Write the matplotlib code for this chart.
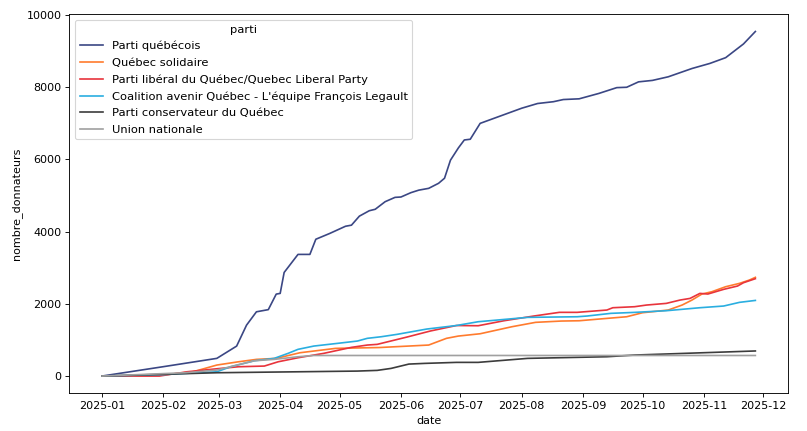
import matplotlib
matplotlib.use("Agg")
import matplotlib.pyplot as plt
import matplotlib.dates as mdates
import pandas as pd

parties = [
    "Parti québécois",
    "Québec solidaire",
    "Parti libéral du Québec/Quebec Liberal Party",
    "Coalition avenir Québec - L'équipe François Legault",
    "Parti conservateur du Québec",
    "Union nationale",
]
colors = ["#3b4784", "#ff7b2e", "#e8343c", "#2aaee0", "#3c3c3c", "#a0a0a0"]

pq_dates = ["2025-01-01", "2025-02-01", "2025-02-28", "2025-03-10", "2025-03-15", "2025-03-20",
            "2025-03-26", "2025-03-30", "2025-04-01", "2025-04-03", "2025-04-10", "2025-04-16",
            "2025-04-19", "2025-04-26", "2025-05-04", "2025-05-07", "2025-05-11", "2025-05-16",
            "2025-05-19", "2025-05-24", "2025-05-29", "2025-06-01", "2025-06-06", "2025-06-10",
            "2025-06-15", "2025-06-20", "2025-06-23", "2025-06-26", "2025-06-30", "2025-07-03",
            "2025-07-06", "2025-07-11", "2025-07-17", "2025-07-24", "2025-08-01", "2025-08-09",
            "2025-08-17", "2025-08-22", "2025-08-30", "2025-09-09", "2025-09-18", "2025-09-23",
            "2025-09-29", "2025-10-06", "2025-10-14", "2025-10-26", "2025-11-04", "2025-11-12",
            "2025-11-21", "2025-11-27"]
pq_values = [0, 260, 490, 830, 1410, 1780,
             1840, 2270, 2290, 2870, 3370, 3370,
             3790, 3950, 4150, 4180, 4430, 4580,
             4620, 4830, 4950, 4960, 5080, 5150,
             5200, 5340, 5480, 5980, 6320, 6540,
             6560, 7000, 7120, 7260, 7420, 7550,
             7600, 7660, 7680, 7830, 7990, 8000,
             8150, 8190, 8290, 8520, 8660, 8820,
             9200, 9545]

qs_dates = ["2025-01-01", "2025-01-30", "2025-02-16", "2025-02-28", "2025-03-11", "2025-03-20",
            "2025-03-30", "2025-04-11", "2025-04-29", "2025-05-21", "2025-06-15", "2025-06-24",
            "2025-06-30", "2025-07-11", "2025-07-27", "2025-08-08", "2025-08-21", "2025-08-30",
            "2025-09-09", "2025-09-23", "2025-10-01", "2025-10-14", "2025-10-21", "2025-10-26",
            "2025-10-31", "2025-11-05", "2025-11-12", "2025-11-19", "2025-11-24", "2025-11-27"]
qs_values = [0, 20, 119, 305, 396, 462,
             490, 646, 767, 790, 859, 1045,
             1108, 1172, 1366, 1488, 1524, 1532,
             1579, 1643, 1754, 1829, 1967, 2106,
             2272, 2336, 2475, 2568, 2660, 2735]

plq_dates = ["2025-01-01", "2025-01-30", "2025-02-13", "2025-02-28", "2025-03-11", "2025-03-24",
             "2025-03-31", "2025-04-10", "2025-04-23", "2025-05-07", "2025-05-15", "2025-05-20",
             "2025-06-04", "2025-06-16", "2025-06-29", "2025-07-10", "2025-07-23", "2025-08-07",
             "2025-08-20", "2025-08-29", "2025-09-13", "2025-09-16", "2025-09-27", "2025-10-03",
             "2025-10-13", "2025-10-20", "2025-10-25", "2025-10-30", "2025-11-03", "2025-11-11",
             "2025-11-18", "2025-11-21", "2025-11-27"]
plq_values = [0, 0, 119, 202, 258, 277,
              396, 507, 629, 795, 859, 878,
              1080, 1250, 1400, 1394, 1532, 1662,
              1765, 1765, 1829, 1893, 1921, 1967,
              2013, 2106, 2151, 2290, 2272, 2402,
              2494, 2586, 2697]

caq_dates = ["2025-01-01", "2025-02-01", "2025-02-28", "2025-03-07", "2025-03-19", "2025-03-29",
             "2025-04-05", "2025-04-10", "2025-04-18", "2025-04-30", "2025-05-10", "2025-05-15",
             "2025-05-22", "2025-05-30", "2025-06-14", "2025-06-29", "2025-07-10", "2025-08-04",
             "2025-08-29", "2025-09-03", "2025-09-15", "2025-09-27", "2025-10-13", "2025-10-30",
             "2025-11-11", "2025-11-19", "2025-11-27"]
caq_values = [0, 40, 119, 258, 424, 490,
              629, 740, 831, 906, 970, 1045,
              1089, 1155, 1302, 1400, 1505, 1626,
              1643, 1663, 1737, 1764, 1810, 1893,
              1940, 2042, 2095]

pcq_dates = ["2025-01-01", "2025-02-28", "2025-05-10", "2025-05-20", "2025-05-27", "2025-06-05",
             "2025-06-13", "2025-06-29", "2025-07-10", "2025-08-04", "2025-08-29", "2025-09-13",
             "2025-09-27", "2025-11-27"]
pcq_values = [0, 92, 138, 157, 212, 332,
              351, 379, 379, 490, 518, 535,
              582, 695]

un_dates = ["2025-01-01", "2025-02-12", "2025-02-28", "2025-03-19", "2025-03-29", "2025-04-10",
            "2025-04-18", "2025-11-27"]
un_values = [0, 92, 166, 424, 462, 535,
             570, 570]

series = [
    (pq_dates, pq_values),
    (qs_dates, qs_values),
    (plq_dates, plq_values),
    (caq_dates, caq_values),
    (pcq_dates, pcq_values),
    (un_dates, un_values),
]

plt.rcParams["font.family"] = ["DejaVu Sans"]
plt.rcParams["font.size"] = 10.3

fig = plt.figure(figsize=(807 / 80, 431 / 80), dpi=80)
ax = fig.add_axes([0.0859, 0.0875, 0.8906, 0.8794])

for name, color, (d, v) in zip(parties, colors, series):
    ax.plot(pd.to_datetime(d), v, color=color, lw=1.5, label=name)

ax.xaxis.set_major_locator(mdates.MonthLocator())
ax.xaxis.set_major_formatter(mdates.DateFormatter("%Y-%m"))
ax.tick_params(labelsize=10)
ax.set_xlabel("date", fontsize=10)
ax.set_ylabel("nombre_donnateurs", fontsize=10)
ax.legend(title="parti", loc="upper left", labelspacing=0.56)

fig.savefig("out.png", dpi=80)
